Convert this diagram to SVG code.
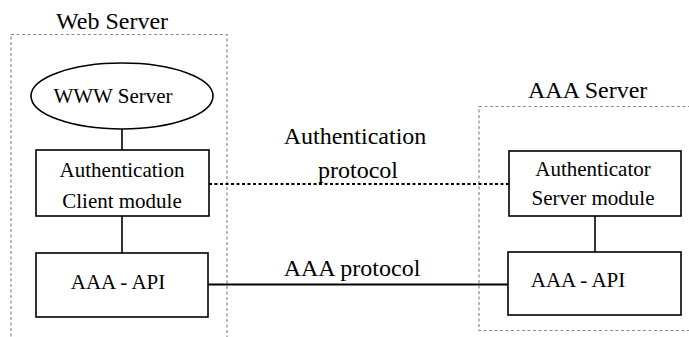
<svg xmlns="http://www.w3.org/2000/svg" width="689" height="337" viewBox="0 0 689 337" font-family="'Liberation Serif', 'Times New Roman', serif">
<style>
text{font-family:'Liberation Serif','Times New Roman',serif;fill:#000;}
.big{font-size:24px;}
.lbl{font-size:21px;text-anchor:middle;}
.node{fill:#fff;stroke:#000;stroke-width:1.6;}
.group{fill:none;stroke:#8a8a8a;stroke-width:1.2;stroke-dasharray:3,2.5;}
.link{stroke:#000;stroke-width:1.6;fill:none;}
</style>
<rect width="689" height="337" fill="#fff"/>
<g id="web-server-group">
<rect class="group" x="11" y="34.5" width="216" height="320"/>
<text class="big" x="56" y="29">Web Server</text>
</g>
<g id="aaa-server-group">
<rect class="group" x="479" y="106.5" width="230" height="224"/>
<text class="big" x="528" y="98">AAA Server</text>
</g>
<g id="connectors">
<line class="link" x1="122" y1="129" x2="122" y2="150"/>
<line class="link" x1="122" y1="216" x2="122" y2="253"/>
<line class="link" x1="595" y1="216" x2="595" y2="252"/>
<line x1="209" y1="184" x2="509" y2="184" stroke="#000" stroke-width="2.2" stroke-dasharray="3,2.5"/>
<line x1="208" y1="284.5" x2="508" y2="284.5" stroke="#000" stroke-width="2"/>
<text class="big" x="355" y="144" text-anchor="middle">Authentication</text>
<text class="big" x="358" y="178" text-anchor="middle">protocol</text>
<text class="big" x="352" y="276" text-anchor="middle">AAA protocol</text>
</g>
<g id="www-server">
<ellipse class="node" cx="122" cy="96" rx="91" ry="33"/>
<text class="lbl" x="113" y="103">WWW Server</text>
</g>
<g id="auth-client">
<rect class="node" x="36" y="150" width="173" height="66"/>
<text class="lbl" x="122" y="177">Authentication</text>
<text class="lbl" x="122" y="208">Client module</text>
</g>
<g id="aaa-api-left">
<rect class="node" x="36" y="253" width="172" height="64"/>
<text class="lbl" x="118" y="289">AAA - API</text>
</g>
<g id="auth-server">
<rect class="node" x="509" y="151" width="172" height="65"/>
<text class="lbl" x="593" y="176">Authenticator</text>
<text class="lbl" x="593" y="205">Server module</text>
</g>
<g id="aaa-api-right">
<rect class="node" x="508" y="252" width="173" height="63"/>
<text class="lbl" x="578" y="287">AAA - API</text>
</g>
</svg>
